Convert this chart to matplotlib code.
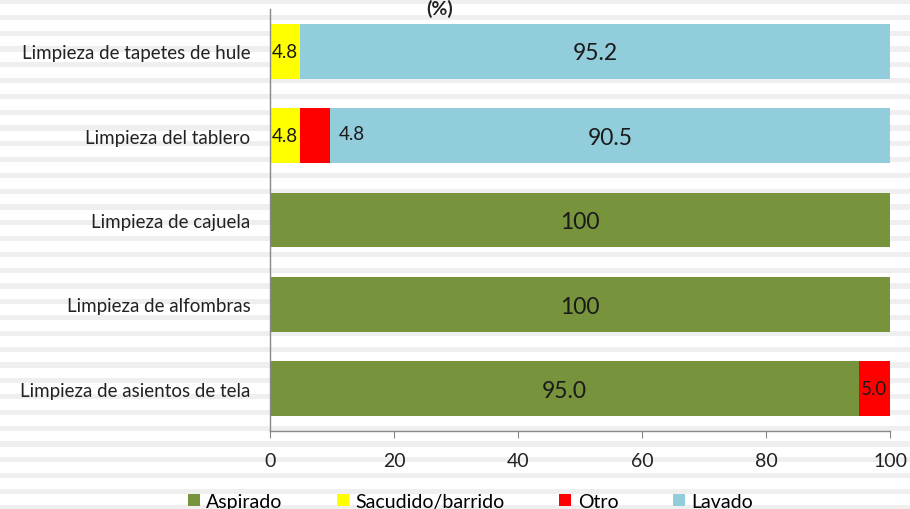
import matplotlib
matplotlib.use("Agg")
import matplotlib.pyplot as plt
from matplotlib.patches import Rectangle
import numpy as np

categories = ["Limpieza de asientos de tela", "Limpieza de alfombras",
              "Limpieza de cajuela", "Limpieza del tablero",
              "Limpieza de tapetes de hule"]
series_names = ["Aspirado", "Sacudido/barrido", "Otro", "Lavado"]
aspirado = [95.0, 100, 100, 0, 0]
sacudido = [0, 0, 0, 4.8, 4.8]
otro = [5.0, 0, 0, 4.8, 0]
lavado = [0, 0, 0, 90.5, 95.2]
labels_aspirado = ["95.0", "100", "100", "", ""]
labels_sacudido = ["", "", "", "4.8", "4.8"]
labels_otro = ["5.0", "", "", "4.8", ""]
labels_lavado = ["", "", "", "90.5", "95.2"]
xticks = [0, 20, 40, 60, 80, 100]

colors = ["#77933C", "#FFFF00", "#FF0000", "#92CDDC"]

plt.rcParams['font.family'] = ['Lato', 'DejaVu Sans']

fig = plt.figure(figsize=(9.1, 5.1), dpi=100)
fig.patch.set_facecolor("white")

# striped background
bg = fig.add_axes([0, 0, 1, 1], zorder=-10)
bg.set_xlim(0, 910)
bg.set_ylim(510, 0)
bg.axis("off")
y = 0
while y < 510:
    bg.add_patch(Rectangle((0, y), 910, 5.2, color="#EFEFEF", lw=0))
    y += 15.8

ax = fig.add_axes([270/910, 1-432/510, 620/910, 422/510])
ax.patch.set_alpha(0)
ypos = np.arange(len(categories))
h = 0.65
left = np.zeros(len(categories))
all_vals = [aspirado, sacudido, otro, lavado]
all_labels = [labels_aspirado, labels_sacudido, labels_otro, labels_lavado]
for vals, col, name, labs in zip(all_vals, colors, series_names, all_labels):
    vals = np.array(vals, dtype=float)
    ax.barh(ypos, vals, left=left, height=h, color=col, label=name, edgecolor="none")
    for i, (v, lab) in enumerate(zip(vals, labs)):
        if not lab:
            continue
        if v >= 20:
            ax.text(left[i] + v / 2, ypos[i] - 0.02, lab, ha="center", va="center",
                    fontsize=16.5, color="#1a1a1a")
        elif name == "Otro" and lavado[i] > 0:
            ax.text(left[i] + v + 1.5, ypos[i] + 0.03, lab, ha="left", va="center",
                    fontsize=13.5, color="#1a1a1a")
        else:
            ax.text(left[i] + v / 2, ypos[i], lab, ha="center", va="center",
                    fontsize=13.5, color="#1a1a1a")
    left += vals

ax.set_xlim(0, 100)
ax.set_ylim(-0.5, len(categories) - 0.5)
ax.set_yticks(ypos)
ax.set_yticklabels(categories, fontsize=13.5, color="#222222")
ax.tick_params(axis="y", length=0, pad=14)
ax.set_xticks(xticks)
ax.set_xticklabels([str(t) for t in xticks], fontsize=14, color="#222222")
ax.tick_params(axis="x", direction="out", length=5, color="#888888", pad=10)
for s in ["top", "right"]:
    ax.spines[s].set_visible(False)
for s in ["left", "bottom"]:
    ax.spines[s].set_color("#888888")
    ax.spines[s].set_linewidth(1.0)

fig.text(440/910, 1.0, "(%)", ha="center", va="top", fontsize=14,
         fontweight="bold", color="#222222")

handles, labs = ax.get_legend_handles_labels()
fig.legend(handles, labs, loc="center", ncol=4, bbox_to_anchor=(0.517, 0.015),
           frameon=False, fontsize=14, handlelength=0.6, handleheight=0.6,
           handletextpad=0.35, columnspacing=2.8)

fig.savefig("out.png", dpi=100, facecolor="white")
